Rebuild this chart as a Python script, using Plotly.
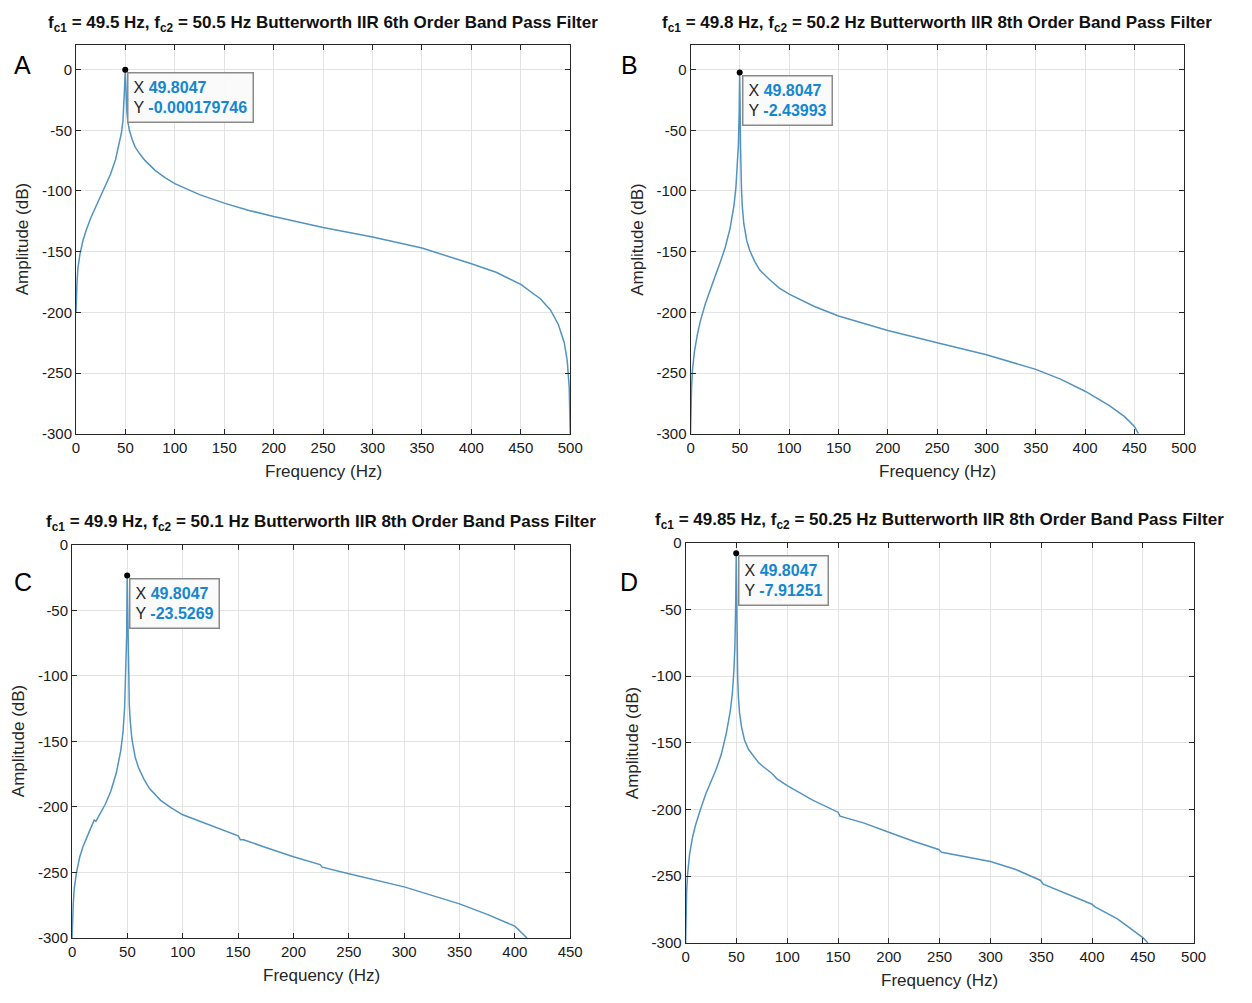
import plotly.graph_objects as go

W, H = 1252, 1003

# ---------------- data ----------------
titles = [
    "<b>f<sub>c1</sub> = 49.5 Hz, f<sub>c2</sub> = 50.5 Hz Butterworth IIR 6th Order Band Pass Filter</b>",
    "<b>f<sub>c1</sub> = 49.8 Hz, f<sub>c2</sub> = 50.2 Hz Butterworth IIR 8th Order Band Pass Filter</b>",
    "<b>f<sub>c1</sub> = 49.9 Hz, f<sub>c2</sub> = 50.1 Hz Butterworth IIR 8th Order Band Pass Filter</b>",
    "<b>f<sub>c1</sub> = 49.85 Hz, f<sub>c2</sub> = 50.25 Hz Butterworth IIR 8th Order Band Pass Filter</b>",
]
panel_letters = ["A", "B", "C", "D"]

freq_a = [0, 0.5, 1, 2, 4, 7, 10, 15, 20, 25, 30, 35, 40, 44, 46, 47.5, 48.5, 49.2, 49.8,
          50.3, 50.8, 51.5, 52.5, 54, 57, 60, 65, 70, 80, 90, 100, 125, 150, 175, 200,
          250, 300, 350, 400, 425, 450, 470, 480, 488, 494, 497, 499, 499.7, 500]
amp_a = [-200, -185, -175, -163, -152, -141, -133, -122, -113, -104, -96, -86, -74, -60, -52,
         -42, -30, -14, -0.000179746, -14, -26, -35, -43, -50, -58, -64, -70, -75, -83, -89,
         -94, -103, -110, -116, -121, -130, -138, -147, -160, -167, -177, -189, -198, -210,
         -225, -240, -262, -280, -300]

freq_b = [0, 0.5, 1, 2, 4, 7, 10, 15, 20, 25, 30, 35, 40, 44, 46, 47.5, 48.5, 49.3, 49.8,
          50.2, 50.6, 51, 51.7, 52.5, 54, 57, 60, 65, 70, 80, 90, 100, 125, 150, 175, 200,
          250, 300, 350, 375, 400, 425, 440, 450, 454]
amp_b = [-300, -278, -262, -247, -232, -218, -207, -193, -181, -170, -159, -147, -131, -112, -97,
         -80, -62, -35, -2.43993, -25, -60, -80, -100, -113, -127, -141, -149, -158, -165, -173,
         -180, -185, -195, -203, -209, -215, -225, -235, -247, -255, -265, -277, -286, -294, -300]

freq_c = [0, 0.5, 1, 2, 4, 7, 10, 15, 18, 20, 21.5, 25, 30, 35, 40, 44, 46, 47.5, 48.5, 49.3,
          49.8, 50.2, 50.6, 51, 51.7, 52.5, 54, 57, 60, 65, 70, 80, 90, 100, 125, 150, 152,
          155, 175, 200, 224, 226, 250, 300, 350, 375, 400, 411]
amp_c = [-300, -285, -275, -262, -250, -238, -230, -220, -214, -210, -211, -206, -198, -188, -174,
         -157, -143, -124, -102, -70, -23.5269, -50, -85, -105, -122, -134, -148, -162, -170, -179,
         -186, -195, -201, -206, -214, -222, -225, -225, -231, -238, -244, -246, -251, -261, -274,
         -282, -291, -300]

freq_d = [0, 0.5, 1, 2, 4, 7, 10, 15, 20, 25, 30, 35, 40, 44, 46, 47.5, 48.5, 49.3, 49.8,
          50.3, 50.7, 51.2, 52, 53, 55, 58, 62, 67, 72, 75, 85, 90, 100, 125, 150, 152, 175,
          200, 225, 249, 252, 300, 325, 349, 352, 400, 403, 425, 450, 455]
amp_d = [-300, -275, -262, -248, -233, -220, -211, -199, -188, -179, -170, -159, -143, -126, -113,
         -96, -78, -45, -7.91251, -40, -75, -100, -116, -127, -138, -148, -155, -160, -165,
         -167, -173, -177, -182, -193, -202, -205, -210, -217, -224, -230, -232, -239, -245,
         -253, -256, -271, -273, -282, -296, -300]

tip_x = [49.8047, 49.8047, 49.8047, 49.8047]
tip_y = [-0.000179746, -2.43993, -23.5269, -7.91251]
tip_y_text = ["-0.000179746", "-2.43993", "-23.5269", "-7.91251"]

x_ranges = [[0, 500], [0, 500], [0, 450], [0, 500]]
y_ranges = [[-300, 20], [-300, 20], [-300, 0], [-300, 0]]
y_ticks = [0, -50, -100, -150, -200, -250, -300]
x_ticks = [0, 50, 100, 150, 200, 250, 300, 350, 400, 450, 500]

series = [(freq_a, amp_a), (freq_b, amp_b), (freq_c, amp_c), (freq_d, amp_d)]

# ---------------- layout geometry (pixels) ----------------
boxes = [(73, 574, 37, 432), (696, 1196, 37, 432), (69, 574, 545, 945), (691, 1206, 543, 950)]

line_color = "#5393c0"
axis_color = "#262626"
grid_color = "#e3e3e3"
font_fam = "Liberation Sans, Arial, sans-serif"

fig = go.Figure()
layout = dict(
    width=W, height=H, margin=dict(l=0, r=0, t=0, b=0),
    paper_bgcolor="white", plot_bgcolor="white", showlegend=False,
    font=dict(family=font_fam, size=15, color=axis_color),
)
annotations = []

for i, (fx, fy) in enumerate(series):
    n = "" if i == 0 else str(i + 1)
    xa, ya = "x" + n, "y" + n
    l, r, t, b = boxes[i]
    xt = [v for v in x_ticks if v <= x_ranges[i][1]]
    layout["xaxis" + n] = dict(
        domain=[l / W, r / W], range=x_ranges[i], anchor=ya,
        tickvals=xt, ticktext=[str(v) for v in xt],
        showgrid=True, gridcolor=grid_color, gridwidth=1,
        showline=True, linecolor=axis_color, linewidth=1, mirror="ticks",
        ticks="inside", ticklen=5, tickcolor=axis_color, zeroline=False,
        tickfont=dict(size=15, color="#1a1a1a"),
    )
    layout["yaxis" + n] = dict(
        domain=[1 - b / H, 1 - t / H], range=y_ranges[i], anchor=xa,
        tickvals=y_ticks, ticktext=[str(v) for v in y_ticks],
        showgrid=True, gridcolor=grid_color, gridwidth=1,
        showline=True, linecolor=axis_color, linewidth=1, mirror="ticks",
        ticks="inside", ticklen=5, tickcolor=axis_color, zeroline=False,
        tickfont=dict(size=15, color="#1a1a1a"),
    )
    fig.add_trace(go.Scatter(x=fx, y=fy, mode="lines", xaxis=xa, yaxis=ya,
                             line=dict(color=line_color, width=1.5), cliponaxis=True))
    fig.add_trace(go.Scatter(x=[tip_x[i]], y=[tip_y[i]], mode="markers", xaxis=xa, yaxis=ya,
                             marker=dict(color="black", size=6), cliponaxis=False))
    # datatip box
    annotations.append(dict(
        x=tip_x[i], y=tip_y[i], xref=xa, yref=ya, xanchor="left", yanchor="top",
        xshift=2, yshift=-2, showarrow=False, align="left",
        text=("X <b><span style='color:#1487d0'>%s</span></b><br>Y <b><span style='color:#1487d0'>%s</span></b>"
              % ("49.8047", tip_y_text[i])),
        font=dict(size=16, color=axis_color, family=font_fam),
        bgcolor="rgba(250,250,250,0.97)", bordercolor="#8a8a8a", borderwidth=1.5, borderpad=5,
    ))
    cx = (l + r) / 2
    # title
    annotations.append(dict(
        x=cx / W, y=1 - (t - 22) / H, xref="paper", yref="paper", xanchor="center", yanchor="middle",
        showarrow=False, text=titles[i], font=dict(size=17, color="#111111", family=font_fam)))
    # x title
    annotations.append(dict(
        x=cx / W, y=1 - (b + 38) / H, xref="paper", yref="paper", xanchor="center", yanchor="middle",
        showarrow=False, text="Frequency (Hz)", font=dict(size=17, color=axis_color, family=font_fam)))
    # y title
    annotations.append(dict(
        x=(l - 54) / W, y=1 - ((t + b) / 2) / H, xref="paper", yref="paper", xanchor="center",
        yanchor="middle", textangle=-90, showarrow=False, text="Amplitude (dB)",
        font=dict(size=17, color=axis_color, family=font_fam)))
    # panel letter
    lx = 19 if i % 2 == 0 else 634
    ly = 57 if i < 2 else 583
    annotations.append(dict(
        x=lx / W, y=1 - ly / H, xref="paper", yref="paper", xanchor="center", yanchor="middle",
        showarrow=False, text=panel_letters[i], font=dict(size=25, color="black", family=font_fam)))

layout["annotations"] = annotations
fig.update_layout(**layout)
fig.write_html("out.html")
